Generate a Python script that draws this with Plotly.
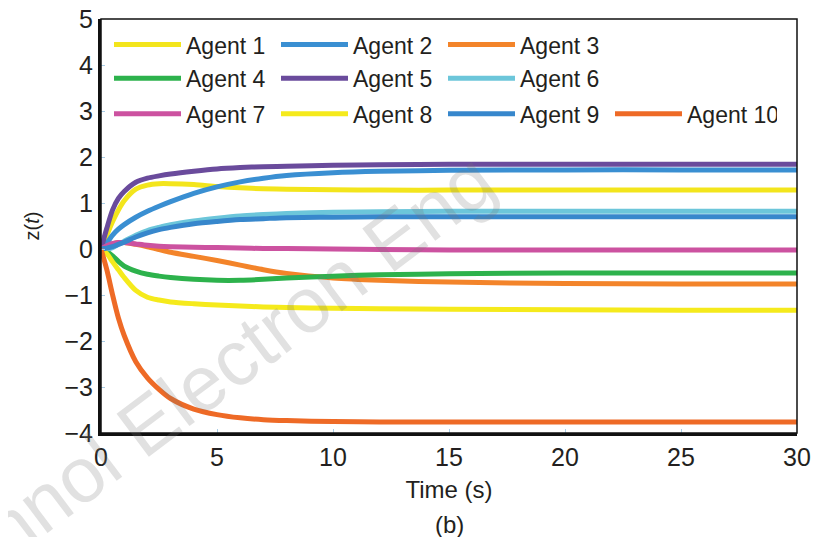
import plotly.graph_objects as go

t = [0, 0.25, 0.5, 0.75, 1, 1.5, 2, 2.5, 3, 4, 5, 6, 7, 8, 10, 12, 15, 20, 25, 30]

agent1 = [0, 0.30, 0.60, 0.85, 1.05, 1.30, 1.39, 1.42, 1.42, 1.40, 1.36, 1.33, 1.31, 1.30, 1.29, 1.28, 1.28, 1.28, 1.28, 1.28]
agent2 = [0, 0.13, 0.30, 0.43, 0.53, 0.69, 0.82, 0.93, 1.03, 1.21, 1.35, 1.46, 1.54, 1.60, 1.66, 1.69, 1.71, 1.72, 1.72, 1.72]
agent3 = [0, 0.06, 0.11, 0.14, 0.14, 0.10, 0.05, -0.01, -0.07, -0.16, -0.25, -0.35, -0.45, -0.53, -0.63, -0.68, -0.72, -0.75, -0.76, -0.76]
agent4 = [0, -0.06, -0.15, -0.27, -0.37, -0.48, -0.55, -0.59, -0.62, -0.66, -0.68, -0.68, -0.66, -0.63, -0.59, -0.56, -0.54, -0.52, -0.52, -0.52]
agent5 = [0, 0.45, 0.85, 1.10, 1.25, 1.45, 1.54, 1.59, 1.63, 1.69, 1.74, 1.77, 1.79, 1.80, 1.82, 1.83, 1.84, 1.84, 1.84, 1.84]
agent6 = [0, 0.00, 0.03, 0.10, 0.17, 0.30, 0.40, 0.47, 0.53, 0.61, 0.67, 0.72, 0.75, 0.77, 0.80, 0.81, 0.82, 0.82, 0.82, 0.82]
agent7 = [0, 0.07, 0.12, 0.14, 0.14, 0.11, 0.08, 0.06, 0.05, 0.04, 0.03, 0.02, 0.01, 0.01, 0.00, -0.01, -0.02, -0.02, -0.02, -0.02]
agent8 = [0, -0.10, -0.28, -0.45, -0.62, -0.90, -1.05, -1.11, -1.15, -1.19, -1.22, -1.24, -1.26, -1.27, -1.29, -1.30, -1.31, -1.32, -1.33, -1.33]
agent9 = [0, 0.02, 0.05, 0.10, 0.15, 0.26, 0.35, 0.42, 0.47, 0.55, 0.60, 0.64, 0.66, 0.68, 0.69, 0.70, 0.70, 0.70, 0.70, 0.70]
agent10 = [0, -0.45, -1.00, -1.50, -1.88, -2.45, -2.80, -3.05, -3.25, -3.48, -3.60, -3.67, -3.71, -3.73, -3.75, -3.76, -3.76, -3.76, -3.76, -3.76]

names = ["Agent 1", "Agent 2", "Agent 3", "Agent 4", "Agent 5",
         "Agent 6", "Agent 7", "Agent 8", "Agent 9", "Agent 10"]
series = [agent1, agent2, agent3, agent4, agent5, agent6, agent7, agent8, agent9, agent10]
colors = ["#f3e51c", "#3a8fd2", "#f3842a", "#2db24c", "#6a4b9c",
          "#6cc6da", "#cc52a0", "#f5ea1c", "#3787cc", "#ee6a26"]
legend_ids = ["legend", "legend", "legend", "legend2", "legend2",
              "legend2", "legend3", "legend3", "legend3", "legend3"]

x_ticks = [0, 5, 10, 15, 20, 25, 30]
y_ticks = [-4, -3, -2, -1, 0, 1, 2, 3, 4, 5]

FONT = "Liberation Sans, Arial, sans-serif"

fig = go.Figure()
for name, ys, c, lg in zip(names, series, colors, legend_ids):
    fig.add_trace(go.Scatter(x=t, y=ys, name=name, mode="lines",
                             line=dict(color=c, width=5, shape="spline", smoothing=0.8),
                             legend=lg))

def leg(y):
    return dict(x=8 / 696, y=y, xanchor="left", yanchor="middle", orientation="h",
                entrywidth=85, entrywidthmode="pixels", itemwidth=67,
                font=dict(family=FONT, size=23, color="#231f20"),
                bgcolor="rgba(0,0,0,0)", borderwidth=0, tracegroupgap=0)

fig.update_layout(
    width=806, height=529,
    margin=dict(l=93, r=17, t=11, b=104),
    paper_bgcolor="white", plot_bgcolor="white",
    font=dict(family=FONT, size=25, color="#231f20"),
    legend=leg(0.938), legend2=leg(0.857), legend3=leg(0.771),
    xaxis=dict(range=[0, 30], tickvals=x_ticks, showgrid=False, zeroline=False,
               showline=True, linecolor="#111", linewidth=3, automargin=False,
               ticks="inside", ticklen=4, tickcolor="#a9cde6",
               tickfont=dict(size=25), ticklabeloverflow="allow",
               title=dict(text="Time (s)", font=dict(size=24), standoff=12)),
    yaxis=dict(range=[-4, 5], tickvals=y_ticks, showgrid=False, zeroline=False,
               showline=True, linecolor="#111", linewidth=3, automargin=False,
               ticks="inside", ticklen=4, tickcolor="#a9cde6",
               tickfont=dict(size=25), ticklabeloverflow="allow",
               title=dict(text="z(<i>t</i>)", font=dict(size=20), standoff=20)),
    shapes=[dict(type="rect", xref="paper", yref="paper", x0=0, x1=1, y0=0, y1=1,
                 line=dict(color="#111", width=1.5), layer="above")],
    annotations=[
        dict(text="(b)", xref="paper", yref="paper", x=0.5, y=-0.222,
             showarrow=False, font=dict(size=24, color="#231f20"),
             xanchor="center", yanchor="middle"),
        dict(text="Front Inform Technol Electron Eng", xref="paper", yref="paper",
             x=(12 - 101) / 696, y=(433 - 526) / 414, textangle=-37,
             showarrow=False, font=dict(size=78, color="rgba(120,120,120,0.22)"),
             xanchor="center", yanchor="middle"),
    ],
)

fig.write_html("out.html")
